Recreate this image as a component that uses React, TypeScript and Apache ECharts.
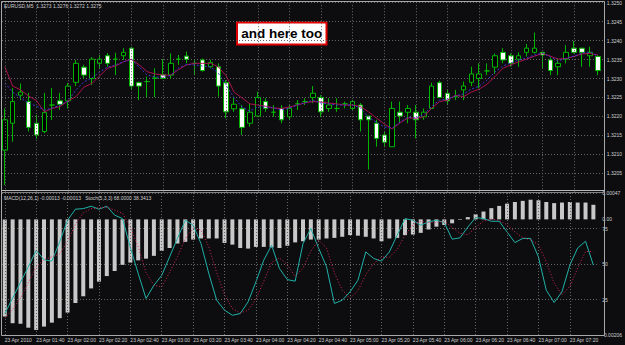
import React, { useEffect, useRef } from "react";
import * as echarts from "echarts";

// ---- data (EURUSD M5, 23 Apr 2010 01:20 .. 07:35) ----
const open = [
  1.32111, 1.32182, 1.32256, 1.32239, 1.32182, 1.3216, 1.3223, 1.32241, 1.32241, 1.3229,
  1.3233, 1.323, 1.3234, 1.3236, 1.32351, 1.3236, 1.3238, 1.32289, 1.32292, 1.32301,
  1.3231, 1.32309, 1.32351, 1.32359, 1.3234, 1.32349, 1.32331, 1.32331, 1.32289, 1.3222,
  1.3222, 1.32182, 1.32201, 1.32239, 1.32211, 1.32221, 1.32199, 1.32233, 1.32239, 1.3225,
  1.3225, 1.32221, 1.32221, 1.32233, 1.32221, 1.3223, 1.32201, 1.32182, 1.32151, 1.3212,
  1.32211, 1.32211, 1.32211, 1.32199, 1.32221, 1.32289, 1.32261, 1.32252, 1.3227, 1.3229,
  1.323, 1.3232, 1.3233, 1.32369, 1.3236, 1.32351, 1.32369, 1.32369, 1.32369, 1.32349,
  1.32331, 1.32351, 1.3238, 1.3238, 1.3236, 1.32358,
];
const close = [
  1.32191, 1.32239, 1.32264, 1.32171, 1.32151, 1.3221, 1.3223, 1.32232, 1.3228, 1.3234,
  1.32309, 1.32351, 1.32351, 1.3234, 1.32351, 1.32369, 1.3228, 1.3228, 1.32292, 1.32301,
  1.323, 1.3234, 1.32351, 1.32351, 1.3234, 1.32321, 1.32342, 1.3228, 1.32212, 1.32232,
  1.32171, 1.32211, 1.3225, 1.32221, 1.32211, 1.32191, 1.32221, 1.32233, 1.32239, 1.32261,
  1.32212, 1.3223, 1.32221, 1.32233, 1.32239, 1.32191, 1.32191, 1.32142, 1.32132, 1.32221,
  1.32201, 1.32221, 1.32191, 1.32211, 1.3228, 1.3225, 1.32241, 1.32252, 1.3228, 1.32312,
  1.32312, 1.3232, 1.3236, 1.32349, 1.3234, 1.3236, 1.3238, 1.3238, 1.32362, 1.32321,
  1.3234, 1.32369, 1.32369, 1.32369, 1.32369, 1.32321,
];
const low = [
  1.32019, 1.32133, 1.32243, 1.3216, 1.3214, 1.32156, 1.32191, 1.32217, 1.32221, 1.3228,
  1.323, 1.32283, 1.32327, 1.32331, 1.32309, 1.32349, 1.32272, 1.32243, 1.32251, 1.32251,
  1.323, 1.323, 1.32336, 1.3234, 1.32309, 1.32318, 1.32327, 1.32252, 1.32195, 1.32212,
  1.32151, 1.32173, 1.32199, 1.32212, 1.32199, 1.32182, 1.32191, 1.32217, 1.3223, 1.32235,
  1.32199, 1.32212, 1.32212, 1.32221, 1.32217, 1.3216, 1.3206, 1.3212, 1.3212, 1.3212,
  1.32182, 1.32182, 1.32142, 1.32191, 1.32221, 1.3225, 1.3223, 1.32243, 1.32243, 1.3228,
  1.32274, 1.32309, 1.32312, 1.3234, 1.32331, 1.32331, 1.32358, 1.32366, 1.32327, 1.32309,
  1.32309, 1.3234, 1.32366, 1.32331, 1.32331, 1.32309,
];
const high = [
  1.32221, 1.32275, 1.32287, 1.32262, 1.32204, 1.32262, 1.32275, 1.32262, 1.32288, 1.32349,
  1.32336, 1.32356, 1.32362, 1.32367, 1.32368, 1.3238, 1.32384, 1.32292, 1.32305, 1.32327,
  1.32351, 1.32366, 1.32362, 1.32371, 1.32351, 1.32353, 1.32349, 1.3234, 1.32296, 1.32252,
  1.3223, 1.32235, 1.32265, 1.32248, 1.3223, 1.3223, 1.3223, 1.32243, 1.32248, 1.3228,
  1.32256, 1.32248, 1.32248, 1.32239, 1.32243, 1.32235, 1.32201, 1.32191, 1.3216, 1.32239,
  1.32239, 1.3223, 1.3223, 1.32221, 1.32289, 1.32294, 1.3227, 1.3227, 1.32292, 1.32331,
  1.3234, 1.3234, 1.32366, 1.3238, 1.32366, 1.32369, 1.32391, 1.32421, 1.3237, 1.32356,
  1.32353, 1.32388, 1.32399, 1.3238, 1.32384, 1.32362,
];
const maRed = [
  1.32331, 1.3228, 1.3227, 1.32254, 1.32242, 1.32212, 1.32221, 1.32226, 1.32241, 1.32252,
  1.32277, 1.32287, 1.32307, 1.32327, 1.32333, 1.32344, 1.32351, 1.32336, 1.32318, 1.32312,
  1.32309, 1.32309, 1.32324, 1.32336, 1.3234, 1.3234, 1.3234, 1.32331, 1.32307, 1.32264,
  1.32249, 1.32233, 1.3223, 1.32227, 1.32222, 1.32221, 1.32225, 1.3223, 1.32236, 1.32239,
  1.32238, 1.32235, 1.32233, 1.3223, 1.3223, 1.32226, 1.32212, 1.32196, 1.3218, 1.32167,
  1.32183, 1.32196, 1.32195, 1.32199, 1.32222, 1.32239, 1.32243, 1.32256, 1.32252, 1.32264,
  1.32272, 1.32285, 1.32305, 1.32327, 1.32336, 1.32344, 1.32351, 1.32359, 1.32366, 1.32359,
  1.32351, 1.32353, 1.32358, 1.32365, 1.32366, 1.32362,
];
const maBlue = [
  1.32288, 1.32264, 1.32249, 1.32235, 1.32227, 1.32217, 1.32222, 1.3223, 1.32241, 1.3227,
  1.32291, 1.32301, 1.32317, 1.3233, 1.32336, 1.32344, 1.32351, 1.3233, 1.32309, 1.32304,
  1.32303, 1.32309, 1.32328, 1.32337, 1.32336, 1.32333, 1.32331, 1.32314, 1.32283, 1.32249,
  1.32225, 1.32214, 1.32225, 1.32225, 1.32222, 1.32217, 1.32222, 1.3223, 1.32236, 1.32243,
  1.32235, 1.32233, 1.3223, 1.3223, 1.3223, 1.32222, 1.32198, 1.32185, 1.32172, 1.32169,
  1.32185, 1.32198, 1.32196, 1.32204, 1.32227, 1.32243, 1.32246, 1.32254, 1.32259, 1.32272,
  1.3228, 1.32296, 1.32317, 1.32333, 1.32341, 1.32349, 1.32354, 1.32362, 1.32367, 1.32357,
  1.32346, 1.32354, 1.32359, 1.32367, 1.3237, 1.32359,
];
const macd = [
  -0.00173, -0.00185, -0.00186, -0.00193, -0.00197, -0.00191, -0.00184, -0.00176, -0.00166, -0.00149,
  -0.00137, -0.00123, -0.00111, -0.00101, -0.00092, -0.00081, -0.00077, -0.00073, -0.0007, -0.00065,
  -0.00056, -0.00051, -0.00043, -0.0004, -0.00036, -0.00034, -0.00034, -0.00034, -0.00042, -0.00045,
  -0.00051, -0.00052, -0.00049, -0.00049, -0.0005, -0.00051, -0.00047, -0.00041, -0.00039, -0.00036,
  -0.00036, -0.00034, -0.00033, -0.00031, -0.00028, -0.00029, -0.00031, -0.00034, -0.00039, -0.00034,
  -0.00033, -0.00028, -0.00027, -0.00024, -0.00018, -0.00013, -0.0001, -0.00007, -0.00001, 0.00004,
  0.00009, 0.00014, 0.0002, 0.00024, 0.00028, 0.00031, 0.00033, 0.00035, 0.00034, 0.00031,
  0.00029, 0.0003, 0.00031, 0.0003, 0.0003, 0.00026,
];
const stochMain = [
  15, 26, 37, 48, 59.6, 53, 52, 65.6, 80.8, 88.6,
  89, 90.7, 88.6, 90.7, 84.4, 82, 61.6, 43.3, 25.7, 35,
  42, 55, 68, 80.8, 77.3, 64.4, 43.3, 24.5, 17.5, 13.9,
  15.1, 23.3, 37.4, 52.7, 63.2, 46.8, 39, 37.9, 64.4, 75,
  61, 48, 22.2, 24.5, 30.4, 38.6, 58.5, 53.9, 52, 58.5,
  70.3, 82, 80.8, 77.3, 79.7, 80.8, 79.2, 67.5, 68.4, 76,
  82.7, 82, 80.1, 80.1, 72.6, 65.1, 68, 68, 55, 31.5,
  22.9, 30.4, 49.2, 61.3, 66, 49.2,
];
const stochSignal = [
  12, 18, 26, 37, 48, 53, 55, 57, 66, 78,
  86, 89, 89.5, 90, 88, 85.7, 76, 62, 44, 35,
  34, 44, 55, 68, 75, 74, 62, 44, 28.4, 18.6,
  15.5, 17.4, 25.3, 37.8, 51.1, 54.2, 49.7, 41.2, 47.1, 59.1,
  66.8, 61.3, 43.7, 31.6, 25.7, 31.2, 42.5, 50.3, 54.8, 54.8,
  60.3, 70.3, 77.7, 80, 79.3, 79.3, 80, 75.8, 71.7, 70.6,
  75.7, 80.2, 81.6, 80.7, 77.6, 72.6, 68.6, 67, 63.7, 51.5,
  36.5, 28.3, 34.2, 47, 58.8, 58.8,
];
const tickIndex = [0, 4, 8, 12, 16, 20, 24, 28, 32, 36, 40, 44, 48, 52, 56, 60, 64, 68, 72];
const tickLabels = [
  "23 Apr 2010", "23 Apr 01:40", "23 Apr 02:00", "23 Apr 02:20", "23 Apr 02:40",
  "23 Apr 03:00", "23 Apr 03:20", "23 Apr 03:40", "23 Apr 04:00", "23 Apr 04:20",
  "23 Apr 04:40", "23 Apr 05:00", "23 Apr 05:20", "23 Apr 05:40", "23 Apr 06:00",
  "23 Apr 06:20", "23 Apr 06:40", "23 Apr 07:00", "23 Apr 07:20",
];
const macdLabelValues = [-0.00206, 0, 0.00047];
const mainTitle = "EURUSD,M5  1.3273 1.3276 1.3272 1.3275";
const subTitle = "MACD(12,26,1) -0.00013 -0.00013   Stoch(5,3,3) 68.0000 38.3413";
const note = "and here too";

const FONT = "'Liberation Sans', Arial, sans-serif";
const BG = "#0d0d0f";
const GREEN = "#00b400";
const GRID = "#666666";
const TXT = "#cfcfcf";
const X_MIN = -0.354;
const X_MAX = 75.75;

export default function App() {
  const ref = useRef<HTMLDivElement>(null);
  useEffect(() => {
    const chart = echarts.init(ref.current!, null, { renderer: "svg" });
    const idx = open.map((_, i) => i);
    const vGrid = (xi: number, yi: number) => ({
      type: "line",
      xAxisIndex: xi,
      yAxisIndex: yi,
      data: [],
      silent: true,
      z: 1,
      markLine: {
        silent: true,
        symbol: ["none", "none"],
        label: { show: false },
        lineStyle: { color: GRID, type: [1, 2], width: 1 },
        emphasis: { disabled: true },
        data: tickIndex.map((t) => ({ xAxis: t })),
      },
    });
    const option: any = {
      animation: false,
      backgroundColor: BG,
      textStyle: { fontFamily: FONT },
      grid: [
        { left: 2, right: 21, top: 2.7, height: 189.5 },
        { left: 2, right: 21, top: 193, height: 142 },
      ],
      xAxis: [
        {
          type: "value", gridIndex: 0, min: X_MIN, max: X_MAX,
          axisLine: { show: false }, axisTick: { show: false },
          axisLabel: { show: false }, splitLine: { show: false },
        },
        {
          type: "value", gridIndex: 1, min: X_MIN, max: X_MAX,
          axisLine: { show: false }, axisTick: { show: false }, splitLine: { show: false },
          axisLabel: {
            customValues: tickIndex,
            formatter: (v: number) => tickLabels[tickIndex.indexOf(Math.round(v))] ?? "",
            fontSize: 5, color: TXT, fontFamily: FONT, margin: 2, align: "left",
          },
        },
      ],
      yAxis: [
        {
          type: "value", gridIndex: 0, position: "right", offset: 0,
          min: 1.32, max: 1.325, interval: 0.0005,
          axisLine: { show: false }, axisTick: { show: false },
          splitLine: { show: true, lineStyle: { color: GRID, type: [1, 2], width: 1 } },
          axisLabel: {
            fontSize: 5, color: TXT, fontFamily: FONT, margin: 3,
            formatter: (v: number) => (Math.abs(v - 1.32) < 1e-7 ? "" : v.toFixed(4)),
          },
        },
        {
          type: "value", gridIndex: 1, position: "right", offset: 0,
          min: -0.00206, max: 0.00047,
          axisLine: { show: false }, axisTick: { show: false }, splitLine: { show: false },
          axisLabel: {
            customValues: macdLabelValues,
            fontSize: 5, color: TXT, fontFamily: FONT, margin: 3,
            formatter: (v: number) => (Math.abs(v) < 1e-9 ? "0.00" : v.toFixed(5)),
          },
        },
        {
          type: "value", gridIndex: 1, position: "right", offset: 0,
          min: 0, max: 100, interval: 25,
          axisLine: { show: false }, axisTick: { show: false },
          splitLine: { show: true, lineStyle: { color: GRID, type: [1, 2], width: 1 } },
          axisLabel: {
            fontSize: 5, color: TXT, fontFamily: FONT, margin: 3,
            formatter: (v: number) => (v === 0 || v === 100 ? "" : String(v)),
          },
        },
      ],
      series: [
        vGrid(0, 0),
        {
          type: "candlestick",
          xAxisIndex: 0, yAxisIndex: 0,
          barWidth: 5,
          z: 2,
          data: idx.map((i) => [i, open[i], close[i], low[i], high[i]]),
          itemStyle: {
            color: "#000000", color0: "#ffffff",
            borderColor: GREEN, borderColor0: GREEN, borderColorDoji: GREEN,
            borderWidth: 1,
          },
        },
        {
          type: "line", xAxisIndex: 0, yAxisIndex: 0, z: 3,
          showSymbol: false, symbol: "none",
          data: idx.map((i) => [i, maRed[i]]),
          lineStyle: { color: "#a8144e", width: 1 },
        },
        {
          type: "line", xAxisIndex: 0, yAxisIndex: 0, z: 3,
          showSymbol: false, symbol: "none",
          data: idx.map((i) => [i, maBlue[i]]),
          lineStyle: { color: "#4232d8", width: 1, type: [2, 2] },
        },
        vGrid(1, 2),
        {
          type: "bar", xAxisIndex: 1, yAxisIndex: 1, z: 2,
          barWidth: 4,
          data: idx.map((i) => [i, macd[i]]),
          itemStyle: { color: "#c8c8c8" },
        },
        {
          type: "line", xAxisIndex: 1, yAxisIndex: 2, z: 3,
          showSymbol: false, symbol: "none",
          data: idx.map((i) => [i, stochMain[i]]),
          lineStyle: { color: "#20b2aa", width: 1 },
        },
        {
          type: "line", xAxisIndex: 1, yAxisIndex: 2, z: 3,
          showSymbol: false, symbol: "none",
          data: idx.map((i) => [i, stochSignal[i]]),
          lineStyle: { color: "#d8285a", width: 1, type: [1, 2] },
        },
      ],
      graphic: [
        {
          type: "rect", z: 100, silent: true,
          shape: { x: 1.5, y: 1.5, width: 603, height: 334 },
          style: { fill: "none", stroke: "#a8a8a8", lineWidth: 1 },
        },
        {
          type: "line", z: 100, silent: true,
          shape: { x1: 1.5, y1: 190.5, x2: 604.5, y2: 190.5 },
          style: { stroke: "#b8b8b8", lineWidth: 1 },
        },
        {
          type: "line", z: 100, silent: true,
          shape: { x1: 1.5, y1: 192.5, x2: 604.5, y2: 192.5 },
          style: { stroke: "#808080", lineWidth: 1 },
        },
        {
          type: "text", z: 100, silent: true, x: 4, y: 6,
          style: { text: mainTitle, fill: TXT, font: `5px ${FONT}`, textVerticalAlign: "middle" },
        },
        {
          type: "text", z: 100, silent: true, x: 4, y: 197.5,
          style: { text: subTitle, fill: TXT, font: `5px ${FONT}`, textVerticalAlign: "middle" },
        },
        {
          type: "group", z: 100, silent: true,
          children: [
            {
              type: "rect",
              shape: { x: 237, y: 22.5, width: 89.5, height: 22 },
              style: { fill: "#ffffff", stroke: "#e00000", lineWidth: 2 },
            },
            {
              type: "text", x: 281.7, y: 33.8,
              style: {
                text: note, fill: "#000000",
                font: `bold 13.5px ${FONT}`,
                textAlign: "center", textVerticalAlign: "middle",
              },
            },
          ],
        },
      ],
    };
    chart.setOption(option);
    return () => chart.dispose();
  }, []);
  return (
    <div
      ref={ref}
      style={{ position: "fixed", left: 0, top: 0, width: 625, height: 345, background: BG }}
    />
  );
}
